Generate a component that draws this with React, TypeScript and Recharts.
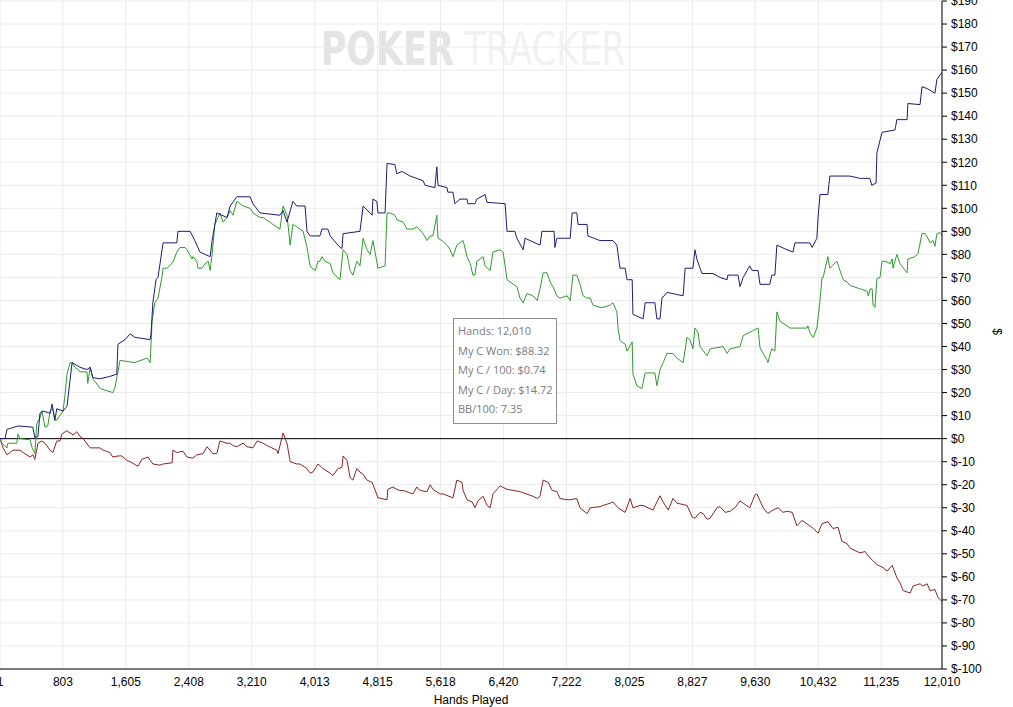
import React from 'react'
import { CartesianGrid, Line, LineChart, ReferenceLine, XAxis, YAxis } from 'recharts'

// hands played and cumulative winnings ($)
const BLUE_HANDS = [1, 65, 90, 230, 420, 445, 485, 510, 550, 640, 665, 700, 725, 805, 855, 920, 1020, 1110, 1150, 1185, 1275, 1400, 1490, 1505, 1595, 1660, 1720, 1915, 1925, 1950, 1990, 2015, 2080, 2255, 2270, 2425, 2485, 2550, 2680, 2705, 2765, 2895, 2935, 3020, 3190, 3225, 3315, 3570, 3610, 3660, 3735, 3785, 3890, 3915, 3955, 4080, 4105, 4180, 4210, 4335, 4360, 4375, 4590, 4630, 4745, 4755, 4805, 4820, 4910, 4935, 5035, 5060, 5125, 5230, 5395, 5420, 5545, 5570, 5585, 5700, 5710, 5775, 5800, 5865, 5955, 5965, 6055, 6080, 6185, 6210, 6440, 6465, 6565, 6590, 6670, 6695, 6885, 6910, 7065, 7075, 7100, 7270, 7295, 7355, 7370, 7485, 7495, 7650, 7815, 7865, 7905, 7970, 7995, 8060, 8070, 8200, 8225, 8350, 8375, 8415, 8440, 8505, 8710, 8735, 8835, 8860, 8885, 8925, 8950, 9090, 9180, 9270, 9280, 9410, 9435, 9475, 9560, 9590, 9665, 9690, 9815, 9840, 9880, 9905, 10035, 10110, 10135, 10325, 10355, 10415, 10430, 10455, 10555, 10580, 10835, 10965, 11090, 11115, 11170, 11180, 11245, 11410, 11435, 11565, 11575, 11730, 11755, 11820, 11920, 11945, 12010]
const BLUE_WON = [0, 0, 4, 5.5, 5, 0.5, 1, 11, 12, 11, 15, 8, 13, 12, 14, 33, 31, 30, 31, 26.5, 26, 27, 28, 41, 43, 45.5, 44, 43, 45, 59, 69, 70, 85, 85, 90, 90, 86, 81, 79, 86, 98, 96, 101, 105, 105, 102, 98, 97, 99, 94, 103, 101, 101, 90, 88, 88, 91, 91, 88, 83, 82.6, 89, 90, 101, 97, 104, 103, 98, 98, 119.5, 119, 115, 116, 114, 112, 110, 109, 118, 110, 109, 107, 107, 102, 104, 104, 102, 102, 104, 106, 102.6, 102, 90, 90, 87, 82, 87, 84, 90, 90, 83, 87, 87, 98, 98, 93, 93, 88, 86, 86, 84, 74, 74, 69, 69, 54, 52, 59, 59, 52, 52, 61, 63.5, 62, 74, 74, 82, 78, 74, 71.7, 71.7, 70, 69, 71, 71, 66, 70, 75, 73, 73, 67, 67, 71, 71, 84, 82, 81, 85, 85, 83, 87, 96, 106, 106, 114, 114, 113, 113, 110, 111, 124, 133, 134, 138.5, 138.5, 145.5, 145, 152.8, 152, 150, 156, 159]

const GREEN_HANDS = [1, 25, 90, 100, 215, 230, 255, 385, 410, 445, 470, 510, 535, 575, 610, 640, 675, 700, 725, 805, 830, 855, 895, 920, 955, 995, 1020, 1110, 1120, 1150, 1185, 1275, 1300, 1440, 1465, 1505, 1530, 1720, 1875, 1915, 1940, 1975, 2015, 2065, 2080, 2130, 2205, 2255, 2295, 2360, 2385, 2450, 2460, 2510, 2525, 2575, 2615, 2655, 2680, 2705, 2740, 2780, 2805, 2845, 2895, 2935, 2970, 3020, 3060, 3100, 3190, 3225, 3315, 3355, 3445, 3480, 3570, 3610, 3660, 3700, 3735, 3785, 3865, 3915, 3955, 3980, 4020, 4055, 4080, 4105, 4145, 4210, 4245, 4335, 4375, 4425, 4465, 4500, 4550, 4590, 4630, 4680, 4720, 4755, 4820, 4910, 4935, 4975, 5035, 5060, 5140, 5190, 5265, 5315, 5395, 5445, 5485, 5520, 5570, 5585, 5635, 5700, 5740, 5775, 5825, 5905, 5955, 5995, 6030, 6055, 6080, 6160, 6185, 6250, 6285, 6375, 6415, 6465, 6505, 6590, 6630, 6670, 6720, 6795, 6850, 6885, 6925, 6975, 7015, 7050, 7100, 7140, 7230, 7270, 7305, 7355, 7395, 7435, 7485, 7525, 7560, 7650, 7690, 7780, 7815, 7865, 7880, 7905, 7930, 7970, 7995, 8060, 8070, 8120, 8185, 8225, 8350, 8375, 8415, 8455, 8505, 8580, 8630, 8710, 8760, 8800, 8835, 8860, 8900, 8925, 9015, 9055, 9220, 9270, 9310, 9435, 9475, 9650, 9665, 9690, 9780, 9790, 9840, 9880, 9905, 9945, 10075, 10110, 10290, 10300, 10330, 10370, 10415, 10455, 10480, 10495, 10555, 10580, 10670, 10710, 10750, 10800, 10840, 11055, 11070, 11095, 11120, 11130, 11155, 11180, 11220, 11245, 11285, 11350, 11375, 11385, 11435, 11475, 11540, 11565, 11575, 11665, 11705, 11755, 11795, 11830, 11860, 11895, 11920, 11945, 11985, 12010]
const GREEN_WON = [0, -2, -4, -2, -2, 2, 0, -0.5, -4, -6.5, 6.5, 9, 12, 5, 5.5, 12, 13, 8, 8, 12, 19, 28, 33, 33, 31, 30, 29, 29, 24, 31, 26, 22, 21.5, 20, 22, 29, 34, 33, 35, 33, 51, 59, 61, 70, 74, 74, 76.5, 81, 83, 83, 82, 78, 79, 77, 74, 74, 76, 77, 73, 80, 93, 96, 98, 94, 96, 99, 97, 103, 102, 101, 100, 98, 96, 96, 94, 93, 91, 101, 97, 84, 93, 92, 90, 83, 75, 74, 73, 77, 77, 79, 77, 76, 72, 69, 82, 80, 73, 71, 77, 75, 87, 82, 80, 86, 74, 75, 98, 98, 97, 95, 94, 91, 91, 92, 89, 86, 88, 88, 97, 87, 86, 84, 82, 79, 84, 86, 79, 76, 71, 71, 77, 79, 75, 73, 81, 82, 81, 69, 68, 66, 61, 59, 63, 62, 60, 65, 72, 72, 68, 66, 62, 61, 62, 60, 71, 71, 67, 62, 61, 61, 58, 57, 57, 58, 59, 55, 48, 42.6, 42, 41, 38, 42, 28, 23, 21.7, 28.5, 28.5, 23, 30, 33, 37, 37, 35, 33, 44, 42.6, 39, 48, 46, 40, 36, 39, 40, 37, 39, 40, 44.7, 47.8, 48, 39.5, 34, 33, 39, 38, 55, 51, 48, 48, 48, 49, 45.6, 44, 48, 60, 70, 70, 79, 74, 77, 73, 69, 68, 66.5, 64, 62, 65, 65, 58, 57, 69.5, 70, 77, 77, 76, 78, 74, 80, 76, 73, 72, 78, 79, 80.5, 89, 89, 87, 85, 86, 83.5, 89, 89.5, 88.32]

const RED_HANDS = [1, 40, 90, 130, 165, 255, 295, 385, 420, 445, 485, 535, 575, 640, 675, 725, 765, 790, 855, 870, 920, 930, 980, 1020, 1060, 1150, 1185, 1275, 1315, 1400, 1440, 1505, 1555, 1620, 1660, 1760, 1810, 1885, 1950, 2040, 2080, 2195, 2205, 2255, 2335, 2385, 2460, 2510, 2590, 2640, 2680, 2715, 2765, 2805, 2895, 2935, 2970, 3020, 3100, 3150, 3225, 3280, 3355, 3405, 3530, 3545, 3610, 3660, 3700, 3785, 3825, 3915, 3955, 3990, 4055, 4120, 4210, 4245, 4310, 4360, 4375, 4425, 4465, 4500, 4550, 4590, 4630, 4680, 4745, 4780, 4820, 4935, 4945, 5010, 5060, 5100, 5140, 5265, 5315, 5355, 5445, 5485, 5520, 5610, 5650, 5775, 5825, 5890, 5905, 5955, 6020, 6055, 6095, 6160, 6210, 6250, 6285, 6375, 6465, 6630, 6670, 6795, 6850, 6885, 6925, 6990, 7040, 7100, 7140, 7230, 7270, 7355, 7395, 7485, 7525, 7650, 7690, 7780, 7815, 7880, 7970, 8035, 8070, 8160, 8200, 8325, 8415, 8455, 8520, 8580, 8630, 8760, 8825, 8860, 8925, 8965, 9015, 9055, 9140, 9180, 9245, 9310, 9370, 9435, 9475, 9560, 9625, 9650, 9690, 9730, 9790, 9855, 9920, 9985, 10035, 10100, 10160, 10225, 10290, 10370, 10430, 10480, 10555, 10620, 10685, 10735, 10800, 10840, 10965, 11030, 11070, 11130, 11180, 11260, 11310, 11375, 11435, 11475, 11515, 11605, 11640, 11730, 11765, 11820, 11860, 11920, 11960, 12010]
const RED_WON = [0, -4, -7, -6, -5, -5, -6, -8, -7, -9, -2, -1, -2, -5, -6, -1, -1, 2, 3.5, 3, 2, 1.5, 3, 1, 0, -4, -4, -4, -5, -6, -8, -7.5, -7.5, -9.5, -10, -12, -9, -8, -11, -11.5, -11, -10.5, -5, -6, -5.5, -8, -8.5, -7, -6.5, -3.5, -5, -6.5, -6.5, -1, -2, -2, -3, -3.5, -2, -3.5, -4, -1, -2, -3, -5, -6.5, 2.5, -2, -10, -11, -11, -13, -15, -14.5, -11, -13, -15, -16, -13, -12.5, -7.5, -9.5, -17, -18, -13, -14.5, -15.5, -18, -19, -22, -25.7, -26.5, -22, -21, -22, -22.5, -22.5, -24, -21, -22.5, -23, -20, -22, -24, -24, -25.7, -18, -19, -22.5, -26.5, -27.5, -30, -27, -25, -29, -30, -24, -20.5, -22, -23, -23.5, -25, -26, -25, -18, -19, -22.5, -23, -26, -26.5, -26.5, -26, -30, -32.6, -30, -29.5, -29, -28, -27.5, -30, -32, -26, -30, -29, -29, -31, -24.8, -27.5, -31, -26, -28, -29, -34, -34.6, -32, -32.5, -35, -34.5, -30, -29.5, -32, -31.5, -30, -27, -28, -30, -24.5, -24, -27, -30, -32.5, -31, -30, -32, -31.5, -32, -37.8, -35.5, -37, -39, -41, -37, -36, -39, -38.5, -44.6, -45.6, -47.6, -49.6, -49, -51, -53, -54.7, -56, -57.5, -55, -60.4, -62.6, -66, -67, -64, -63, -64, -63, -66, -65.5, -69, -70.7]

const HAND_TICKS = [1, 803, 1605, 2408, 3210, 4013, 4815, 5618, 6420, 7222, 8025, 8827, 9630, 10432, 11235, 12010]
const DOLLAR_TICKS = [-100, -90, -80, -70, -60, -50, -40, -30, -20, -10, 0, 10, 20, 30, 40, 50, 60, 70, 80, 90, 100, 110, 120, 130, 140, 150, 160, 170, 180, 190]

const INFO_LINES = ['Hands: 12,010', 'My C Won: $88.32', 'My C / 100: $0.74', 'My C / Day: $14.72', 'BB/100: 7.35']

const toRows = (hands: number[], won: number[]) => hands.map((h, i) => ({ hands: h, won: won[i] }))

const blueRows = toRows(BLUE_HANDS, BLUE_WON)
const greenRows = toRows(GREEN_HANDS, GREEN_WON)
const redRows = toRows(RED_HANDS, RED_WON)

const FONT = '"Liberation Sans", Arial, sans-serif'

export default function App() {
  return (
    <div style={{ position: 'absolute', left: 0, top: 0, width: 1013, height: 707, background: '#fff' }}>
      {/* watermark, squeezed horizontally to look condensed */}
      <svg width={1013} height={80} style={{ position: 'absolute', left: 0, top: 0 }}>
        <g transform="scale(0.76,1)">
          <text y={65} fontFamily='"DejaVu Sans", sans-serif' fontSize={46}>
            <tspan x={422} fontWeight="bold" fill="#e4e4e4">POKER</tspan>
            <tspan x={611} fill="#f1f1f1">TRACKER</tspan>
          </text>
        </g>
      </svg>
      <LineChart width={1013} height={707} margin={{ top: 1, right: 0, bottom: 0, left: 0 }} style={{ position: 'absolute', left: 0, top: 0 }}>
        <CartesianGrid stroke="#ebebeb" strokeWidth={1} fill="none" />
        <XAxis
          type="number"
          dataKey="hands"
          domain={[1, 12010]}
          ticks={HAND_TICKS}
          tickFormatter={(v: number) => v.toLocaleString('en-US')}
          tickLine={false}
          axisLine={{ stroke: '#000' }}
          tick={{ fill: '#000', fontSize: 12, fontFamily: FONT }}
          height={38}
          interval={0}
          allowDataOverflow
          label={{ value: 'Hands Played', position: 'insideBottom', offset: 3, fill: '#000', fontSize: 12, fontFamily: FONT }}
        />
        <YAxis
          orientation="right"
          type="number"
          domain={[-100, 190]}
          ticks={DOLLAR_TICKS}
          interval={0}
          width={71}
          tickSize={5}
          tickMargin={4}
          tickFormatter={(v: number) => `$${v}`}
          axisLine={{ stroke: '#000' }}
          tickLine={{ stroke: '#000' }}
          tick={{ fill: '#000', fontSize: 12, fontFamily: FONT }}
          label={{ value: '$', angle: 90, position: 'insideRight', offset: 16, fill: '#000', fontSize: 12, fontFamily: FONT }}
        />
        <ReferenceLine y={0} stroke="#000" strokeWidth={1} />
        <Line data={redRows} dataKey="won" type="linear" stroke="#8b2323" strokeWidth={1} dot={false} isAnimationActive={false} />
        <Line data={greenRows} dataKey="won" type="linear" stroke="#2e9b2e" strokeWidth={1} dot={false} isAnimationActive={false} />
        <Line data={blueRows} dataKey="won" type="linear" stroke="#1c1c78" strokeWidth={1} dot={false} isAnimationActive={false} />
      </LineChart>
      <div
        style={{
          position: 'absolute',
          left: 453,
          top: 318,
          width: 104,
          height: 106,
          border: '1px solid #8c8c8c',
          background: '#fff',
          fontFamily: '"Open Sans", sans-serif',
          fontSize: 11,
          color: '#7a7a7a',
          lineHeight: '19.6px',
          padding: '2px 0 0 4px',
          boxSizing: 'border-box',
          whiteSpace: 'nowrap',
        }}
      >
        {INFO_LINES.map((t) => (
          <div key={t}>{t}</div>
        ))}
      </div>
    </div>
  )
}
